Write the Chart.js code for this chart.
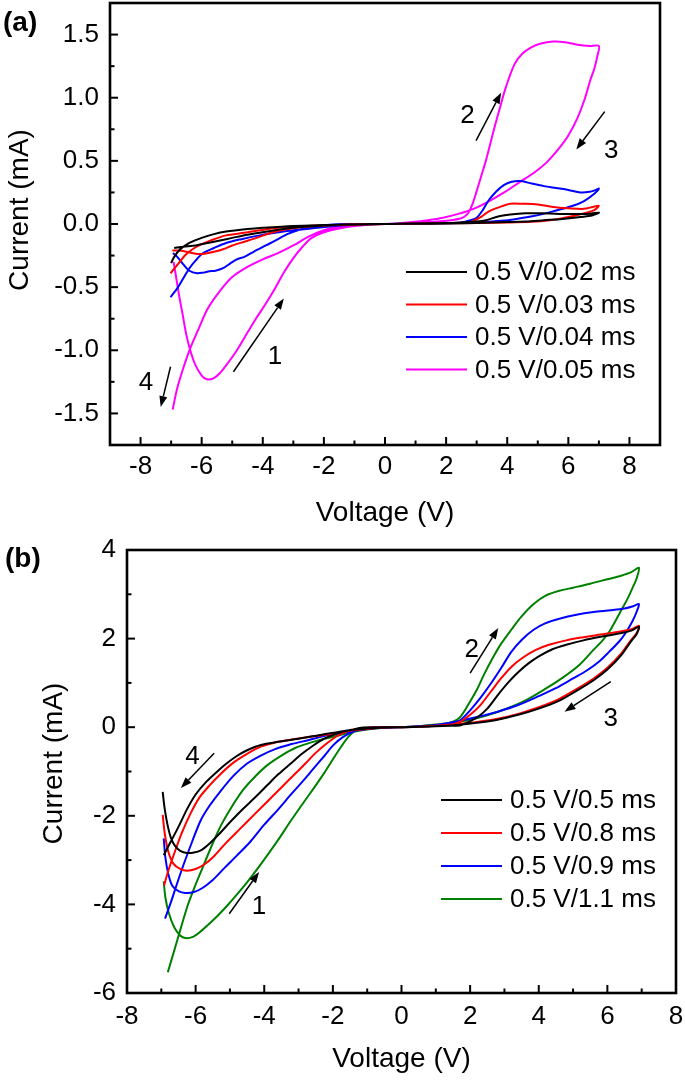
<!DOCTYPE html>
<html>
<head>
<meta charset="utf-8">
<script src="https://cdn.jsdelivr.net/npm/chart.js@4.4.1/dist/chart.umd.min.js"></script>
<style>
html, body { margin: 0; padding: 0; background: #fff; overflow: hidden; width: 685px; height: 1080px; }
.wrap { position: absolute; left: 0; }
#wa { top: -40px; width: 700px; height: 580px; }
#wb { top: 510px; width: 700px; height: 570px; }
.tag { position: absolute; font: bold 28px "Liberation Sans", Arial, sans-serif; line-height: 1; }
</style>
</head>
<body>
<div class="wrap" id="wa"><canvas id="chartA" width="700" height="580"></canvas></div>
<div class="wrap" id="wb"><canvas id="chartB" width="700" height="570"></canvas></div>
<div class="tag" style="left:3px;top:8px">(a)</div>
<div class="tag" style="left:5px;top:544px">(b)</div>
<script>
// ---- panel (a): pulse 0.5 V, different widths ----
const labelsA = ['0.5 V/0.02 ms', '0.5 V/0.03 ms', '0.5 V/0.04 ms', '0.5 V/0.05 ms'];
const colorsA = ['#000000', '#ff0000', '#0000ff', '#ff00ff'];
const xTicksA = [-8, -6, -4, -2, 0, 2, 4, 6, 8];
const yTicksA = [-1.5, -1.0, -0.5, 0.0, 0.5, 1.0, 1.5];

const voltA1 = [-6.9,-6.6,-6.2,-5.8,-5.4,-5.0,-4.5,-4.1,-3.5,-3.0,-2.5,-2.0,-1.5,-1.0,-0.5,0,
  0.5,1,1.5,2,2.5,3.0,3.3,3.7,4.1,4.6,5.1,5.7,6.3,6.7,7.0,
  6.8,6.4,5.8,5.2,4.6,4.0,3.0,2.0,1.0,0,
  -1,-2,-3,-4,-4.5,-5.2,-5.6,-6.0,-6.4,-6.7,-6.9,-7.0];
const currA1 = [-0.19,-0.18,-0.17,-0.15,-0.13,-0.11,-0.085,-0.07,-0.045,-0.03,-0.02,-0.012,-0.006,-0.003,0,0,
  0.002,0.003,0.005,0.008,0.012,0.02,0.03,0.06,0.075,0.085,0.085,0.08,0.08,0.082,0.09,
  0.07,0.055,0.04,0.03,0.02,0.015,0.008,0.004,0.002,0,
  -0.003,-0.008,-0.015,-0.03,-0.04,-0.06,-0.08,-0.11,-0.15,-0.2,-0.26,-0.31];

const voltA2 = [-6.96,-6.75,-6.5,-6.2,-5.9,-5.6,-5.3,-5.0,-4.6,-4.2,-3.8,-3.4,-2.9,-2.4,-1.9,-1.4,-0.7,0,
  0.5,1.0,1.5,2.0,2.5,2.8,3.1,3.4,3.7,4.1,4.5,5.0,5.5,6.0,6.5,6.8,7.0,
  6.85,6.6,6.2,5.8,5.4,4.8,4.0,3.0,2.0,1.0,0,
  -0.7,-1.5,-2.2,-2.8,-3.5,-4.1,-4.6,-5.2,-5.7,-6.0,-6.3,-6.55,-6.75,-6.92,-7.02];
const currA2 = [-0.21,-0.21,-0.22,-0.235,-0.235,-0.22,-0.2,-0.17,-0.14,-0.11,-0.075,-0.05,-0.03,-0.018,-0.01,-0.005,0,0,
  0.002,0.004,0.006,0.008,0.01,0.015,0.05,0.1,0.13,0.16,0.16,0.155,0.135,0.125,0.12,0.135,0.145,
  0.11,0.09,0.065,0.045,0.03,0.018,0.012,0.008,0.005,0.002,0,
  -0.003,-0.008,-0.012,-0.02,-0.03,-0.05,-0.07,-0.09,-0.13,-0.16,-0.2,-0.25,-0.31,-0.36,-0.39];

const voltA3 = [-6.94,-6.8,-6.6,-6.4,-6.15,-5.95,-5.75,-5.55,-5.3,-5.05,-4.85,-4.6,-4.3,-3.9,-3.5,-3.2,-2.8,-2.4,-1.9,-1.3,0,
  0.5,1.0,1.5,2.0,2.5,2.8,3.0,3.2,3.4,3.65,3.9,4.15,4.45,4.8,5.2,5.6,6.0,6.4,6.7,6.9,7.0,
  6.85,6.5,6.1,5.5,4.9,4.3,3.8,3.0,2.0,1.0,0,
  -0.7,-1.5,-2.2,-3.0,-3.6,-4.1,-4.7,-5.2,-5.6,-5.95,-6.2,-6.4,-6.6,-6.8,-7.02];
const currA3 = [-0.23,-0.26,-0.32,-0.37,-0.39,-0.385,-0.375,-0.37,-0.35,-0.31,-0.28,-0.26,-0.22,-0.17,-0.12,-0.08,-0.045,-0.02,-0.008,0,0,
  0.002,0.004,0.006,0.008,0.012,0.03,0.05,0.11,0.19,0.26,0.31,0.335,0.34,0.32,0.3,0.285,0.27,0.25,0.255,0.27,0.28,
  0.24,0.18,0.14,0.1,0.065,0.04,0.025,0.012,0.006,0.003,0,
  -0.003,-0.012,-0.03,-0.05,-0.07,-0.09,-0.12,-0.15,-0.19,-0.23,-0.29,-0.35,-0.43,-0.51,-0.58];

const voltA4 = [-6.92,-6.85,-6.75,-6.62,-6.5,-6.35,-6.2,-6.0,-5.83,-5.6,-5.4,-5.2,-4.9,-4.6,-4.25,-3.9,-3.6,-3.3,-3.0,-2.7,-2.4,-2.0,-1.5,-1.0,-0.5,0,
  0.5,1.0,1.5,2.0,2.5,2.7,2.85,3.0,3.15,3.3,3.45,3.6,3.75,3.9,4.05,4.25,4.5,4.8,5.1,5.5,5.9,6.3,6.7,7.0,
  6.95,6.85,6.72,6.55,6.3,6.0,5.7,5.3,4.9,4.4,3.9,3.4,2.9,2.4,1.9,1.4,0.9,0.4,0,
  -0.5,-1.0,-1.5,-2.0,-2.5,-3.0,-3.5,-4.0,-4.5,-5.0,-5.4,-5.8,-6.1,-6.4,-6.6,-6.8,-6.95];
const currA4 = [-0.3,-0.4,-0.55,-0.72,-0.88,-1.02,-1.12,-1.2,-1.23,-1.22,-1.18,-1.12,-1.02,-0.9,-0.76,-0.63,-0.51,-0.38,-0.27,-0.18,-0.11,-0.065,-0.035,-0.015,-0.005,0,
  0.004,0.008,0.015,0.025,0.045,0.08,0.15,0.26,0.38,0.5,0.64,0.78,0.91,1.04,1.15,1.27,1.35,1.4,1.43,1.445,1.44,1.42,1.41,1.41,
  1.33,1.23,1.14,1.0,0.84,0.7,0.6,0.49,0.41,0.33,0.25,0.18,0.12,0.08,0.05,0.03,0.015,0.004,0,
  -0.003,-0.01,-0.02,-0.05,-0.1,-0.17,-0.23,-0.28,-0.34,-0.42,-0.53,-0.67,-0.83,-1.0,-1.14,-1.3,-1.47];

// ---- panel (b): pulse 0.5 V, longer widths ----
const labelsB = ['0.5 V/0.5 ms', '0.5 V/0.8 ms', '0.5 V/0.9 ms', '0.5 V/1.1 ms'];
const colorsB = ['#000000', '#ff0000', '#0000ff', '#008000'];
const xTicksB = [-8, -6, -4, -2, 0, 2, 4, 6, 8];
const yTicksB = [-6, -4, -2, 0, 2, 4];

const voltB1 = [-6.96,-6.9,-6.82,-6.72,-6.6,-6.45,-6.25,-6.05,-5.85,-5.6,-5.3,-4.98,-4.6,-4.3,-3.9,-3.6,-3.2,-2.9,-2.6,-2.3,-2.0,-1.7,-1.4,-1.15,-0.6,0,
  0.5,1.0,1.4,1.7,1.9,2.2,2.5,2.8,3.1,3.4,3.7,4.0,4.4,4.8,5.3,5.8,6.3,6.7,6.92,
  6.85,6.7,6.4,6.0,5.6,5.1,4.6,4.0,3.4,2.8,2.2,1.6,1.0,0.5,0,
  -0.6,-1.2,-1.8,-2.4,-3.0,-3.6,-4.1,-4.5,-4.8,-5.1,-5.4,-5.7,-6.0,-6.25,-6.5,-6.75,-6.93];
const currB1 = [-1.46,-1.85,-2.2,-2.5,-2.68,-2.79,-2.84,-2.83,-2.78,-2.63,-2.4,-2.13,-1.83,-1.61,-1.3,-1.07,-0.8,-0.6,-0.43,-0.28,-0.18,-0.1,-0.05,-0.015,-0.003,0,
  0.01,0.02,0.03,0.04,0.1,0.22,0.42,0.72,1.0,1.24,1.44,1.6,1.76,1.86,1.96,2.04,2.11,2.18,2.27,
  2.1,1.95,1.62,1.3,1.06,0.82,0.6,0.42,0.28,0.17,0.1,0.05,0.02,0.008,0,
  -0.01,-0.04,-0.1,-0.18,-0.26,-0.33,-0.4,-0.52,-0.65,-0.82,-1.02,-1.24,-1.52,-1.85,-2.25,-2.62,-2.89];

const voltB2 = [-6.96,-6.9,-6.8,-6.65,-6.45,-6.25,-6.0,-5.75,-5.45,-5.1,-4.7,-4.3,-3.9,-3.5,-3.1,-2.8,-2.5,-2.2,-1.9,-1.6,-1.3,-1.0,0,
  0.5,1.0,1.4,1.7,2.0,2.3,2.6,2.9,3.2,3.5,3.9,4.3,4.8,5.3,5.8,6.3,6.7,6.92,
  6.85,6.7,6.4,6.0,5.6,5.1,4.6,4.0,3.4,2.8,2.2,1.6,1.0,0.5,0,
  -0.6,-1.2,-1.7,-2.2,-2.7,-3.2,-3.7,-4.1,-4.5,-4.9,-5.25,-5.6,-5.9,-6.15,-6.4,-6.6,-6.78,-6.92];
const currB2 = [-1.98,-2.4,-2.8,-3.08,-3.2,-3.24,-3.2,-3.1,-2.9,-2.6,-2.29,-1.98,-1.67,-1.36,-1.05,-0.82,-0.58,-0.38,-0.21,-0.1,-0.04,-0.01,0,
  0.01,0.03,0.05,0.12,0.28,0.5,0.8,1.1,1.36,1.55,1.74,1.86,1.96,2.03,2.09,2.15,2.21,2.29,
  2.12,1.98,1.66,1.34,1.1,0.86,0.64,0.45,0.3,0.19,0.12,0.07,0.03,0.01,0,
  -0.01,-0.05,-0.1,-0.17,-0.22,-0.28,-0.35,-0.44,-0.6,-0.8,-1.04,-1.32,-1.6,-1.95,-2.38,-2.8,-3.2,-3.57];

const voltB3 = [-6.93,-6.88,-6.8,-6.68,-6.5,-6.3,-6.05,-5.8,-5.5,-5.15,-4.8,-4.4,-4.0,-3.6,-3.2,-2.9,-2.56,-2.25,-1.98,-1.7,-1.4,-1.1,-0.8,0,
  0.5,1.0,1.4,1.7,2.0,2.3,2.6,2.9,3.2,3.5,3.85,4.2,4.6,5.1,5.6,6.1,6.5,6.75,6.92,
  6.85,6.73,6.55,6.35,6.05,5.77,5.4,5.0,4.5,4.0,3.4,2.8,2.2,1.6,1.0,0.5,0,
  -0.5,-1.0,-1.6,-2.2,-2.7,-3.2,-3.7,-4.1,-4.5,-4.9,-5.3,-5.6,-5.85,-6.1,-6.35,-6.55,-6.72,-6.89];
const currB3 = [-2.51,-2.95,-3.3,-3.58,-3.7,-3.74,-3.72,-3.63,-3.45,-3.17,-2.9,-2.58,-2.2,-1.86,-1.5,-1.24,-0.93,-0.65,-0.4,-0.22,-0.1,-0.03,0,0,
  0.01,0.03,0.06,0.15,0.38,0.66,0.98,1.33,1.7,1.97,2.2,2.35,2.45,2.54,2.6,2.64,2.68,2.73,2.78,
  2.6,2.39,2.15,1.94,1.7,1.49,1.28,1.1,0.88,0.7,0.5,0.35,0.23,0.13,0.05,0.02,0,
  -0.01,-0.04,-0.11,-0.19,-0.29,-0.38,-0.5,-0.64,-0.82,-1.1,-1.47,-1.78,-2.1,-2.58,-3.1,-3.55,-3.95,-4.32];

const voltB4 = [-6.93,-6.88,-6.78,-6.62,-6.45,-6.3,-6.1,-5.9,-5.65,-5.35,-5.07,-4.8,-4.49,-4.2,-3.91,-3.6,-3.24,-2.9,-2.56,-2.25,-1.98,-1.75,-1.55,-1.35,-1.15,-0.6,0,
  0.5,1.0,1.4,1.7,2.0,2.2,2.4,2.65,2.9,3.2,3.5,3.85,4.2,4.6,5.0,5.5,6.0,6.4,6.7,6.92,
  6.85,6.73,6.6,6.44,6.25,6.06,5.85,5.6,5.19,4.7,4.2,3.6,3.0,2.5,2.0,1.5,1.0,0.5,0,
  -0.5,-1.0,-1.5,-1.9,-2.3,-2.7,-3.1,-3.5,-3.9,-4.25,-4.6,-4.95,-5.25,-5.5,-5.85,-6.05,-6.23,-6.52,-6.81];
const currB4 = [-3.48,-3.85,-4.2,-4.52,-4.7,-4.76,-4.74,-4.64,-4.47,-4.25,-4.02,-3.78,-3.49,-3.2,-2.89,-2.55,-2.13,-1.75,-1.38,-1.03,-0.7,-0.43,-0.22,-0.08,-0.01,0,0,
  0.02,0.06,0.1,0.22,0.58,0.85,1.18,1.55,1.88,2.2,2.5,2.78,2.97,3.08,3.15,3.24,3.34,3.42,3.5,3.6,
  3.35,3.14,2.92,2.69,2.42,2.16,1.95,1.75,1.41,1.12,0.87,0.6,0.4,0.27,0.17,0.1,0.05,0.02,0,
  -0.01,-0.05,-0.12,-0.2,-0.27,-0.36,-0.47,-0.64,-0.85,-1.1,-1.4,-1.8,-2.2,-2.62,-3.27,-3.65,-4.02,-4.77,-5.53];

// sweep-direction marks, in data units: [label, x, y] and [x1, y1, x2, y2]
const notesA = [['2', 2.7, 0.86], ['3', 7.4, 0.58], ['1', -3.6, -1.05], ['4', -7.82, -1.26]];
const arrowsA = [[2.98, 0.66, 3.8, 1.04], [7.19, 0.89, 6.26, 0.59], [-4.96, -1.17, -3.31, -0.59], [-7.02, -1.13, -7.34, -1.45]];
const notesB = [['2', 2.05, 1.75], ['3', 6.1, 0.2], ['4', -6.09, -0.66], ['1', -4.15, -4.06]];
const arrowsB = [[2.0, 1.22, 2.82, 2.24], [6.1, 1.03, 4.75, 0.35], [-5.46, -0.59, -6.43, -1.37], [-5.02, -4.21, -4.15, -3.27]];

const FONT = '"Liberation Sans", Arial, sans-serif';

function pairs(xs, ys) {
  return xs.map((v, i) => ({ x: v, y: ys[i] }));
}

function mids(arr) {
  const out = [];
  for (let i = 0; i < arr.length - 1; i++) out.push((arr[i] + arr[i + 1]) / 2);
  return out;
}

const framePlugin = {
  id: 'frame',
  afterDatasetsDraw(chart, args, o) {
    const { ctx, chartArea: a } = chart;
    const x = chart.scales.x, y = chart.scales.y;
    ctx.save();
    ctx.strokeStyle = '#000';
    ctx.lineCap = 'butt';
    // inward ticks on left and bottom
    ctx.lineWidth = 2;
    const tick = (px, py, dx, dy) => { ctx.beginPath(); ctx.moveTo(px, py); ctx.lineTo(px + dx, py + dy); ctx.stroke(); };
    o.xMajor.forEach(v => tick(x.getPixelForValue(v), a.bottom, 0, -8));
    o.xMinor.forEach(v => tick(x.getPixelForValue(v), a.bottom, 0, -4.5));
    o.yMajor.forEach(v => tick(a.left, y.getPixelForValue(v), 8, 0));
    o.yMinor.forEach(v => tick(a.left, y.getPixelForValue(v), 4.5, 0));
    ctx.lineWidth = 2.6;
    ctx.strokeRect(a.left, a.top, a.right - a.left, a.bottom - a.top);

    // y title, sitting a little above the middle of the axis like the original
    ctx.fillStyle = '#000';
    ctx.font = '28px ' + FONT;
    ctx.textAlign = 'center';
    ctx.textBaseline = 'middle';
    ctx.save();
    ctx.translate(o.yTitleX, (a.top + a.bottom) / 2 - o.yTitleUp);
    ctx.rotate(-Math.PI / 2);
    ctx.fillText('Current (mA)', 0, 0);
    ctx.restore();

    // legend
    ctx.font = '26px ' + FONT;
    ctx.textAlign = 'left';
    chart.data.datasets.forEach((ds, i) => {
      const ly = a.top + o.legTop + i * o.legStep;
      ctx.strokeStyle = ds.borderColor;
      ctx.lineWidth = 2;
      ctx.beginPath();
      ctx.moveTo(a.left + o.legX, ly);
      ctx.lineTo(a.left + o.legX + 61, ly);
      ctx.stroke();
      ctx.fillText(ds.label, a.left + o.legX + 69, ly + 1);
    });

    // sweep arrows and numbers
    ctx.strokeStyle = '#000';
    ctx.lineWidth = 1.5;
    o.arrows.forEach(([x1, y1, x2, y2]) => {
      const p1 = [x.getPixelForValue(x1), y.getPixelForValue(y1)];
      const p2 = [x.getPixelForValue(x2), y.getPixelForValue(y2)];
      const ang = Math.atan2(p2[1] - p1[1], p2[0] - p1[0]);
      const hl = 11, hw = 4;
      const bx = p2[0] - hl * Math.cos(ang), by = p2[1] - hl * Math.sin(ang);
      ctx.beginPath(); ctx.moveTo(p1[0], p1[1]); ctx.lineTo(bx, by); ctx.stroke();
      ctx.beginPath();
      ctx.moveTo(p2[0], p2[1]);
      ctx.lineTo(bx + hw * Math.sin(ang), by - hw * Math.cos(ang));
      ctx.lineTo(bx - hw * Math.sin(ang), by + hw * Math.cos(ang));
      ctx.closePath(); ctx.fill();
    });
    ctx.textAlign = 'center';
    o.notes.forEach(([t, vx, vy]) => ctx.fillText(t, x.getPixelForValue(vx), y.getPixelForValue(vy)));
    ctx.restore();
  }
};

function makeChart(id, p) {
  const datasets = p.series.map((s, i) => ({
    label: p.labels[i],
    data: pairs(s[0], s[1]),
    borderColor: p.colors[i],
    backgroundColor: p.colors[i],
    showLine: true,
    fill: false,
    borderWidth: 2,
    pointRadius: 0,
    tension: 0.3
  }));
  return new Chart(document.getElementById(id), {
    type: 'scatter',
    data: { datasets },
    options: {
      responsive: false,
      animation: false,
      devicePixelRatio: 1,
      layout: { padding: p.pad },
      plugins: {
        legend: { display: false },
        tooltip: { enabled: false },
        frame: {
          xMajor: p.xTicks, xMinor: mids(p.xTicks),
          yMajor: p.yTicks, yMinor: mids(p.yTicks).concat(p.yEdge),
          legTop: p.legTop, legStep: p.legStep, legX: p.legX,
          yTitleX: p.yTitleX, yTitleUp: p.yTitleUp,
          arrows: p.arrows, notes: p.notes
        }
      },
      scales: {
        x: {
          type: 'linear', min: p.xMin, max: p.xMax,
          grid: { display: false, drawTicks: false }, border: { display: false },
          afterBuildTicks: s => { s.ticks = p.xTicks.map(v => ({ value: v })); },
          afterFit: s => { s.height = p.xH; },
          ticks: { color: '#000', font: { family: FONT, size: 26 }, padding: p.xPad, maxRotation: 0, callback: v => String(v) },
          title: { display: true, text: 'Voltage (V)', color: '#000', font: { family: FONT, size: 28 }, padding: { top: 0, bottom: p.xTitlePad } }
        },
        y: {
          type: 'linear', min: p.yMin, max: p.yMax,
          grid: { display: false, drawTicks: false }, border: { display: false },
          afterBuildTicks: s => { s.ticks = p.yTicks.map(v => ({ value: v })); },
          afterFit: s => { s.width = p.yW; },
          ticks: { color: '#000', font: { family: FONT, size: 26 }, padding: 11, callback: p.yFmt },
          title: { display: false }
        }
      }
    },
    plugins: [framePlugin]
  });
}

makeChart('chartA', {
  labels: labelsA, colors: colorsA,
  series: [[voltA1, currA1], [voltA2, currA2], [voltA3, currA3], [voltA4, currA4]],
  xMin: -9, xMax: 9, yMin: -1.75, yMax: 1.75,
  xTicks: xTicksA, yTicks: yTicksA, yEdge: [-1.75, 1.75],
  yFmt: v => v.toFixed(1),
  pad: { left: 0, top: 43, right: 40, bottom: 0 },
  yW: 110, xH: 95, xPad: 6, xTitlePad: 10,
  yTitleX: 20, yTitleUp: 14,
  legTop: 269, legStep: 32.5, legX: 296,
  arrows: arrowsA, notes: notesA
});

makeChart('chartB', {
  labels: labelsB, colors: colorsB,
  series: [[voltB1, currB1], [voltB2, currB2], [voltB3, currB3], [voltB4, currB4]],
  xMin: -8, xMax: 8, yMin: -6, yMax: 4,
  xTicks: xTicksB, yTicks: yTicksB, yEdge: [],
  yFmt: v => String(v),
  pad: { left: 0, top: 40, right: 24, bottom: 0 },
  yW: 127, xH: 87, xPad: 8, xTitlePad: 4,
  yTitleX: 54, yTitleUp: 8,
  legTop: 250, legStep: 33, legX: 314,
  arrows: arrowsB, notes: notesB
});
</script>
</body>
</html>
